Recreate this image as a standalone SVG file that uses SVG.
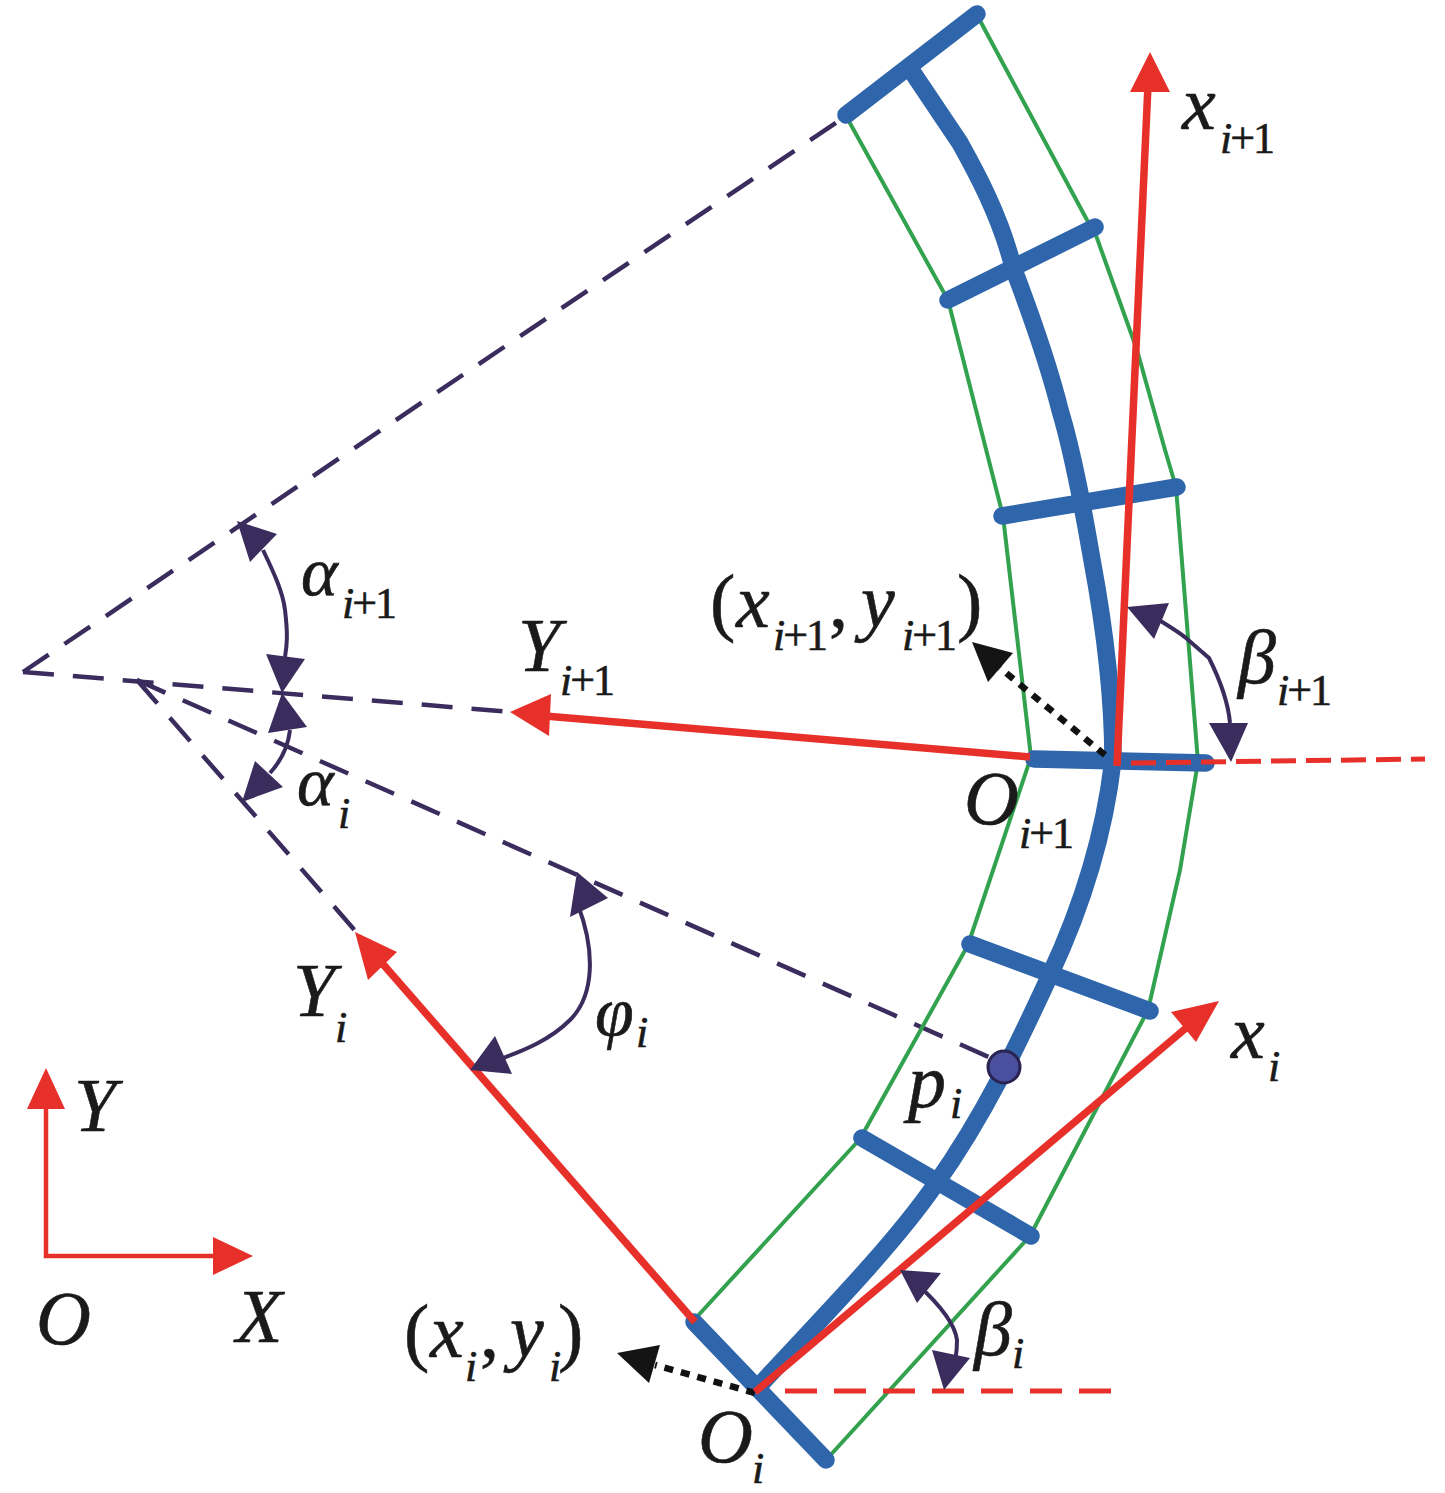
<svg xmlns="http://www.w3.org/2000/svg" width="1445" height="1493" viewBox="0 0 1445 1493">
<style>
.bl{fill:none;stroke:#2f66ab;stroke-width:17.5;stroke-linecap:round;stroke-linejoin:round}
.gr{fill:none;stroke:#33a24f;stroke-width:4;stroke-linejoin:round}
.rd{fill:none;stroke:#e8302a;stroke-width:7.5}
.rt{fill:none;stroke:#e8302a;stroke-width:4.5}
.rdd{fill:none;stroke:#e8302a;stroke-width:5}
.pd{fill:none;stroke:#3b2c5e;stroke-width:4.5;stroke-dasharray:31 19}
.pa{fill:none;stroke:#3b2c5e;stroke-width:4}
.bd{fill:none;stroke:#111;stroke-width:6.5;stroke-dasharray:9 8}
.ah{fill:#e8302a}.ap{fill:#3b2c5e}.ak{fill:#141414}
text{font-family:"Liberation Serif",serif;font-style:italic;font-size:76px;fill:#1a1a1a;stroke:#1a1a1a;stroke-width:.6}
.s{font-size:44px;letter-spacing:-2px}
.g{font-size:70px}
.up{font-style:normal}
</style>
<rect width="1445" height="1493" fill="#fff"/>
<g id="connectors">
<path class="pd" d="M23 672L846 116"/>
<path class="pd" d="M23 672L512 712"/>
<path class="pd" d="M137 680L1000 1062"/>
<path class="pd" d="M137 680L358 934"/>
<path class="pa" stroke-width="3" d="M165 693L137 680L157 703"/>
<path class="gr" d="M977 15L1087 220L1093 227L1137 350L1165 450L1176 487L1198 762L1180 870L1148 1010L1030 1236L826 1460"/>
<path class="gr" d="M846 116L948 300L1003 516L1031 757L968 945L860 1139L694 1320"/>
<path class="pa" d="M263 550C275 575 283 593 285 610C288 635 287 645 285 657"/>
<path class="pa" d="M290 730C288 748 280 762 270 773"/>
<path class="pa" d="M578 905C595 950 595 995 570 1020C550 1040 525 1050 498 1060"/>
<path class="pa" d="M1159 620C1172 628 1180 633 1186 638L1209 658C1220 680 1228 700 1230 723"/>
<path class="pa" d="M918 1285C940 1305 955 1325 957 1340C957 1355 955 1365 951 1375"/>
<path class="bl" d="M846 115L977 14M1095 227L948 300M1002 516L1177 487M1034 759L1206 763M970 944L1150 1011M862 1138L1031 1236M694 1322L826 1460"/>
<path class="bl" d="M913 73L960 143C975 170 1000 215 1013 267C1025 300 1045 350 1060 410C1075 460 1085 520 1092 560C1105 630 1113 700 1113 760C1105 830 1085 900 1050 975C1020 1040 985 1115 935 1185C890 1250 810 1330 760 1385"/>
<path class="rdd" stroke-dasharray="25 10" d="M1131 763L1425 759"/>
<path class="rdd" stroke-dasharray="32 17" d="M785 1391H1116"/>
<path class="bd" d="M1105 755L1000 668"/>
<path class="bd" d="M755 1393L655 1365"/>
<path class="rd" d="M1117 766L1148 85"/>
<path class="rd" d="M1030 757L545 716"/>
<path class="rd" d="M755 1392L1192 1023"/>
<path class="rd" d="M695 1322L375 955"/>
<path class="rt" d="M46 1100V1256H222"/>
<polygon class="ah" points="1150,52 1170,92 1130,92"/>
<polygon class="ah" points="510,712 551,694 549,736"/>
<polygon class="ah" points="1219,1001 1196,1042 1171,1012"/>
<polygon class="ah" points="355,932 397,952 368,980"/>
<polygon class="ah" points="46,1068 65,1109 27,1109"/>
<polygon class="ah" points="253,1256 213,1275 213,1237"/>
<polygon class="ap" points="237,521 277,534 250,562"/>
<polygon class="ap" points="282,693 266,654 305,659"/>
<polygon class="ap" points="282,693 307,727 268,733"/>
<polygon class="ap" points="242,802 255,761 283,787"/>
<polygon class="ap" points="577,872 608,898 570,917"/>
<polygon class="ap" points="470,1070 495,1036 512,1074"/>
<polygon class="ap" points="1127,607 1169,603 1154,639"/>
<polygon class="ap" points="1231,762 1209,723 1248,723"/>
<polygon class="ap" points="900,1270 941,1273 917,1303"/>
<polygon class="ap" points="944,1390 932,1350 970,1358"/>
<polygon class="ak" points="972,642 1013,653 988,682"/>
<polygon class="ak" points="617,1353 660,1345 649,1383"/>
</g>
<g id="p-i"><circle cx="1004" cy="1067" r="16" fill="#4a4f9e" stroke="#2a2250" stroke-width="3"/></g>
<g id="labels">
<text x="1182" y="129">x<tspan class="s" x="1220" y="153">i<tspan class="up">+1</tspan></tspan></text>
<text x="710" y="627"><tspan class="up">(</tspan><tspan x="736">x</tspan><tspan class="s" x="773" y="650">i<tspan class="up">+1</tspan></tspan><tspan class="up" x="829" y="627">,</tspan><tspan x="861">y</tspan><tspan class="s" x="902" y="650">i<tspan class="up">+1</tspan></tspan><tspan class="up" x="957" y="627">)</tspan></text>
<text x="518" y="671">Y<tspan class="s" x="560" y="695">i<tspan class="up">+1</tspan></tspan></text>
<text class="g" x="301" y="595">α<tspan class="s" x="342" y="618">i<tspan class="up">+1</tspan></tspan></text>
<text class="g" x="297" y="805">α<tspan class="s" x="338" y="828">i</tspan></text>
<text x="1238" y="683">β<tspan class="s" x="1277" y="705">i<tspan class="up">+1</tspan></tspan></text>
<text x="964" y="824">O<tspan class="s" x="1019" y="848">i<tspan class="up">+1</tspan></tspan></text>
<text class="g" x="595" y="1035">φ<tspan class="s" x="636" y="1047">i</tspan></text>
<text x="293" y="1016">Y<tspan class="s" x="335" y="1042">i</tspan></text>
<text x="1231" y="1058">x<tspan class="s" x="1268" y="1081">i</tspan></text>
<text x="908" y="1107">p<tspan class="s" x="950" y="1118">i</tspan></text>
<text x="74" y="1131">Y</text>
<text x="36" y="1344">O</text>
<text x="236" y="1342">X</text>
<text x="404" y="1357"><tspan class="up">(</tspan><tspan x="430">x</tspan><tspan class="s" x="465" y="1381">i</tspan><tspan class="up" x="480" y="1357">,</tspan><tspan x="510">y</tspan><tspan class="s" x="549" y="1381">i</tspan><tspan class="up" x="558" y="1357">)</tspan></text>
<text x="974" y="1355">β<tspan class="s" x="1012" y="1368">i</tspan></text>
<text x="698" y="1462">O<tspan class="s" x="752" y="1483">i</tspan></text>
</g>
</svg>
